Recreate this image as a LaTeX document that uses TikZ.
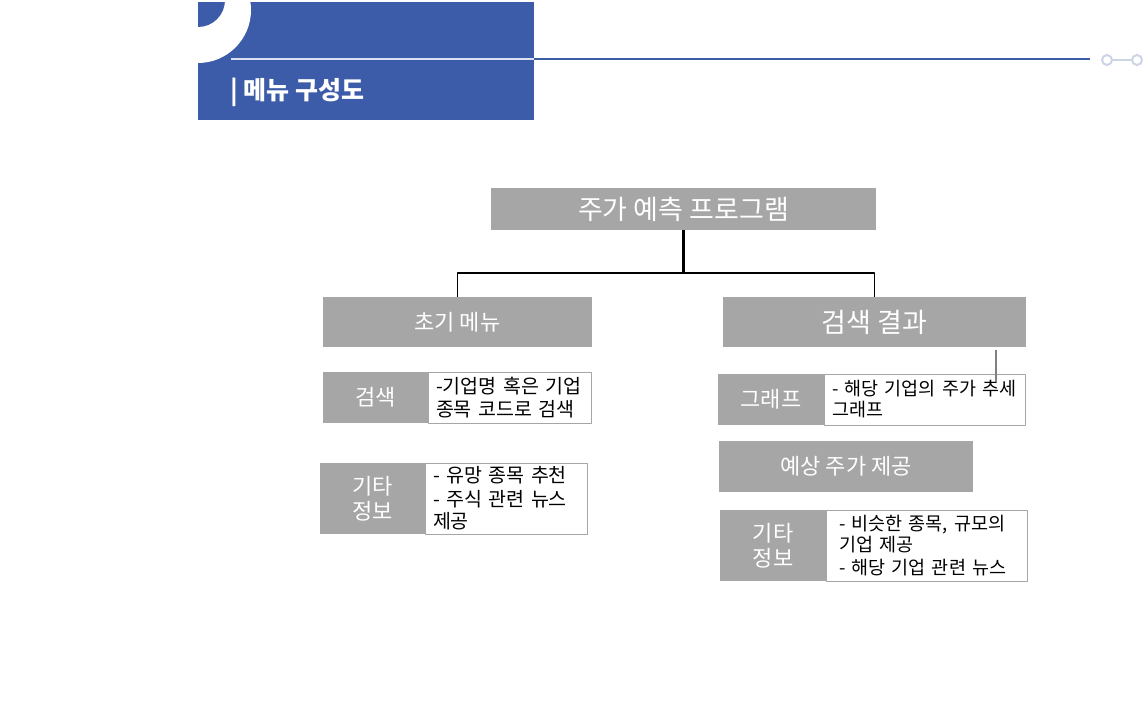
\documentclass[tikz,border=0pt]{standalone}
\usepackage{fontspec}
\setmainfont{Noto Sans CJK KR}
\definecolor{hdrblue}{HTML}{3C5BA8}
\definecolor{boxgray}{HTML}{A6A6A6}
\definecolor{paleline}{HTML}{D9E1F2}
\definecolor{dotgray}{HTML}{CDD5E4}
\begin{document}
\begin{tikzpicture}[x=1pt,y=-1pt,line join=bevel,
  graybox/.style={fill=boxgray,text=white,inner sep=0pt,align=center,
    font=\fontsize{22}{25}\selectfont},
  descbox/.style={draw=boxgray,fill=white,inner ysep=0pt,align=left,
    font=\fontsize{19.5}{22.5}\selectfont},
  link/.style={draw=black,line width=1.4pt}]
\useasboundingbox (0,0) rectangle (1146,723);
%% header
\fill[hdrblue] (198,2) rectangle (534,120);
\begin{scope}
  \clip (198,2) rectangle (534,120);
  \fill[white] (198,10) circle (53);
  \fill[hdrblue] (198,0) circle (27);
\end{scope}
\draw[paleline,line width=2.5pt] (231,59) -- (534,59);
\draw[hdrblue,line width=2.5pt] (534,59) -- (1090,59);
\node (d1) at (1107,60) [circle,draw=dotgray,line width=2pt,minimum size=10pt,inner sep=0pt] {};
\node (d2) at (1137,60) [circle,draw=dotgray,line width=2pt,minimum size=10pt,inner sep=0pt] {};
\draw[dotgray,line width=2pt] (d1) -- (d2);
\node (title) at (230,92) [anchor=west,text=white,inner sep=0pt,font=\fontsize{25}{28}\selectfont\bfseries] {| 메뉴 구성도};
%%
\node (top) at (683.5,209) [graybox,minimum width=385pt,minimum height=42pt,font=\fontsize{27}{30}\selectfont] {주가 예측 프로그램};
\node (menu) at (457.5,322) [graybox,minimum width=269pt,minimum height=50pt] {초기 메뉴};
\node (result) at (874.5,322) [graybox,minimum width=303pt,minimum height=50pt,font=\fontsize{27}{30}\selectfont] {검색 결과};
\coordinate (split) at (683.5,273);
\draw [link,line width=2.4pt] (top) -- (split);
\draw [link] (split) -| (menu);
\draw [link] (split) -| (result);
%% left column
\node (search) at (375.5,397.5) [graybox,minimum width=105pt,minimum height=51pt] {검색};
\node (searchtxt) at (509.5,397.5) [descbox,inner xsep=8pt,text width=147pt,minimum height=51pt] {\mbox{-기업명 혹은 기업}\\\mbox{종목 코드로 검색}};
\node (etcl) at (372.5,498.5) [graybox,minimum width=105pt,minimum height=71pt] {기타\\정보};
\node (etcltxt) at (506,498.5) [descbox,inner xsep=8pt,text width=146pt,minimum height=71pt] {\mbox{- 유망 종목 추천}\\[1pt]\mbox{- 주식 관련 뉴스}\\제공};
%% right column
\node (graph) at (771,399.5) [graybox,minimum width=106pt,minimum height=51pt] {그래프};
\node (graphtxt) at (924.5,399.5) [descbox,inner xsep=8pt,text width=185pt,minimum height=51pt,font=\fontsize{18.5}{21}\selectfont] {\mbox{- 해당 기업의 주가 추세}\\그래프};
\node (forecast) at (846,466.5) [graybox,minimum width=254pt,minimum height=51pt] {예상 주가 제공};
\node (etcr) at (773,545.5) [graybox,minimum width=106pt,minimum height=71pt] {기타\\정보};
\node (etcrtxt) at (926.5,545.5) [descbox,inner xsep=13pt,text width=175pt,minimum height=71pt,font=\fontsize{18.5}{21.5}\selectfont] {\mbox{- 비슷한 종목, 규모의}\\\mbox{기업 제공}\\[1pt]\mbox{- 해당 기업 관련 뉴스}};
\coordinate (tick1) at (996,350);
\coordinate (tick2) at (996,382);
\draw [gray,line width=1.4pt] (tick1) -- (tick2);
%
\end{tikzpicture}
\end{document}
